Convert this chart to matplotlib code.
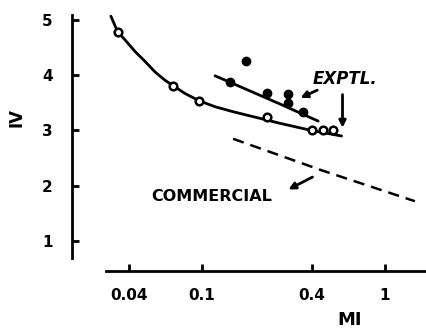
import matplotlib
matplotlib.use("Agg")
import matplotlib.pyplot as plt

# open circles (lower curve points)
open_x = [0.0346, 0.0697, 0.0963, 0.227, 0.399, 0.458, 0.52]
open_y = [4.79, 3.81, 3.54, 3.24, 3.00, 3.00, 3.00]

# filled circles (experimental)
filled_x = [0.175, 0.142, 0.226, 0.294, 0.294, 0.355]
filled_y = [4.25, 3.87, 3.67, 3.66, 3.49, 3.34]

# hand-drawn lower curve
curve_x = [0.0318, 0.0346, 0.0380, 0.0431, 0.0489, 0.0554, 0.0628, 0.0697, 0.0808,
           0.0963, 0.118, 0.148, 0.175, 0.226, 0.267, 0.398, 0.58]
curve_y = [5.07, 4.79, 4.64, 4.43, 4.25, 4.06, 3.91, 3.81, 3.67,
           3.54, 3.43, 3.34, 3.28, 3.19, 3.13, 3.00, 2.90]

# upper fitted line
upper_x = [0.118, 0.267, 0.432]
upper_y = [3.99, 3.48, 3.17]

# commercial (dashed)
comm_x = [0.148, 0.451, 1.46]
comm_y = [2.85, 2.28, 1.72]

xticks = [0.04, 0.1, 0.4, 1]
xtick_labels = ["0.04", "0.1", "0.4", "1"]
yticks = [1, 2, 3, 4, 5]

plt.rcParams['font.family'] = 'DejaVu Sans'
plt.rcParams['font.weight'] = 'bold'

fig = plt.figure(figsize=(4.27, 3.28), dpi=100)
ax = fig.add_axes([72/427, 57/328, 355/427, 256/328])

ax.plot(curve_x, curve_y, color='black', lw=2.0, solid_capstyle='round', solid_joinstyle='round')
ax.plot(upper_x, upper_y, color='black', lw=2.0, solid_capstyle='round')
ax.plot(comm_x, comm_y, color='black', lw=1.8, linestyle=(0, (4.5, 2.8)))

ax.plot(open_x, open_y, 'o', ms=5.5, mfc='white', mec='black', mew=1.8)
ax.plot(filled_x, filled_y, 'o', ms=6, color='black')

ax.set_xscale('log')
ax.set_xlim(0.0195, 1.70)
ax.set_ylim(0.457, 5.09)

for s in ['top', 'right']:
    ax.spines[s].set_visible(False)
ax.spines['left'].set_linewidth(2)
ax.spines['bottom'].set_linewidth(2)
ax.spines['left'].set_bounds(0.69, 5.09)
ax.spines['bottom'].set_bounds(0.0299, 1.70)

ax.set_xticks(xticks)
ax.set_xticklabels(xtick_labels)
ax.minorticks_off()
ax.set_yticks(yticks)
ax.tick_params(axis='both', direction='in', length=5, width=2, labelsize=11)
ax.tick_params(axis='y', pad=14)
ax.tick_params(axis='x', pad=12)

ax.set_xlabel('MI', fontsize=13, fontweight='bold')
ax.xaxis.set_label_coords(0.783, -0.155)
ax.set_ylabel('IV', fontsize=12, fontweight='bold')
ax.yaxis.set_label_coords(-0.13, 0.6)

ax.text(0.604, 3.93, 'EXPTL.', fontsize=12, fontweight='bold', style='italic',
        ha='center', va='center')
ax.text(0.113, 1.80, 'COMMERCIAL', fontsize=11.5, fontweight='bold',
        ha='center', va='center')

arrow = dict(arrowstyle='-|>', color='black', lw=2, mutation_scale=10)
ax.annotate('', xy=(0.335, 3.57), xytext=(0.441, 3.75), arrowprops=arrow)
ax.annotate('', xy=(0.587, 3.0), xytext=(0.587, 3.70), arrowprops=arrow)
ax.annotate('', xy=(0.288, 1.91), xytext=(0.415, 2.18), arrowprops=arrow)

fig.savefig('out.png', dpi=100)
